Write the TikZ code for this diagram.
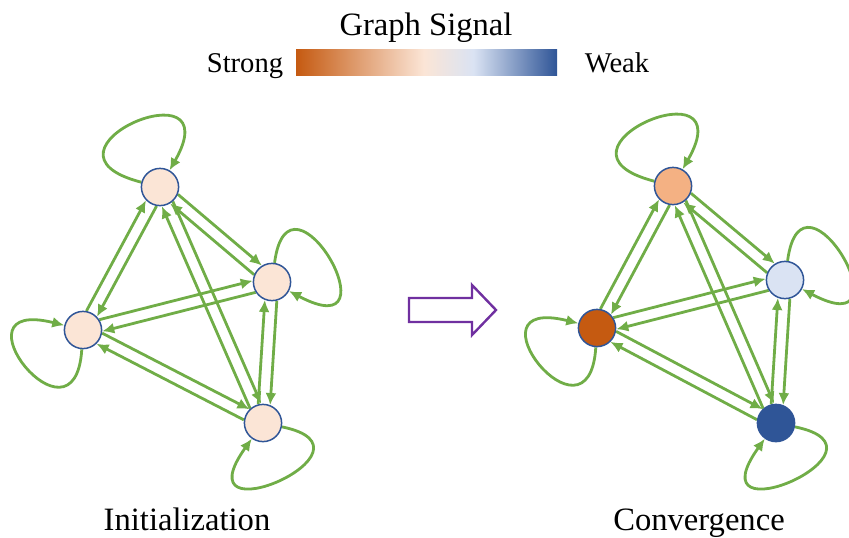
\documentclass[tikz,border=0pt]{standalone}
\usepackage{fontspec}
\setmainfont{Liberation Serif}
\usetikzlibrary{arrows.meta, calc, backgrounds}

\definecolor{linkgreen}{HTML}{70AD47}
\definecolor{rimblue}{HTML}{2F5597}
\definecolor{strongc}{HTML}{C55A11}
\definecolor{strongmid}{HTML}{F4B183}
\definecolor{initc}{HTML}{FBE5D6}
\definecolor{paleblue}{HTML}{DAE3F3}
\definecolor{weakc}{HTML}{2F5597}
\definecolor{hollowpurple}{HTML}{7030A0}

\pgfdeclarehorizontalshading{signalbar}{100bp}{color(0bp)=(strongc);
  color(25bp)=(strongc); color(49.5bp)=(initc); color(59bp)=(paleblue);
  color(75bp)=(weakc); color(100bp)=(weakc)}

\begin{document}
\begin{tikzpicture}[x=0.5pt, y=-0.5pt,
    sig/.style={circle, draw=rimblue, line width=0.75pt, minimum size=18.6pt,
      inner sep=0pt},
    link/.style={draw=linkgreen, line width=1.4pt,
      -{Latex[length=6pt, width=5.5pt]}},
    pair/.style={link, shorten <=9.2pt, shorten >=9.2pt},
    caption/.style={font=\fontsize{16.3}{18}\selectfont, anchor=base},
    scalelabel/.style={font=\fontsize{14.3}{16}\selectfont, anchor=base}]
  \useasboundingbox (0,0) rectangle (849,537);
  \clip (0,0) rectangle (849,537);

  % colour scale
  \node[caption] (title) at (426,35) {Graph Signal};
  \path[shading=signalbar] (296,49) rectangle (557,75);
  \node[scalelabel] (strong) at (245,72) {Strong};
  \node[scalelabel] (weak) at (617,72) {Weak};

  % initial signal
  \node[sig, fill=initc] (t1) at (160,187) {};
  \node[sig, fill=initc] (r1) at (272,282) {};
  \node[sig, fill=initc] (l1) at (83,330) {};
  \node[sig, fill=initc] (b1) at (263,423) {};

  % converged signal
  \node[sig, fill=strongmid] (t2) at (673,186) {};
  \node[sig, fill=paleblue] (r2) at (785,280) {};
  \node[sig, fill=strongc] (l2) at (597,328) {};
  \node[sig, fill=weakc] (b2) at (776,423) {};

  \begin{scope}[on background layer]
    \foreach \g in {1,2} {
      \foreach \a/\b in {t/l, t/r, b/t, l/r, b/l, r/b} {
        \draw[pair] ($(\a\g)!3pt!90:(\b\g)$) -- ($(\b\g)!3pt!-90:(\a\g)$);
        \draw[pair] ($(\b\g)!3pt!90:(\a\g)$) -- ($(\a\g)!3pt!-90:(\b\g)$);
      }
      % self loops
      \draw[link] (t\g) .. controls +(-140,-36) and +(72,-126) .. (t\g);
      \draw[link] (r\g) .. controls +(17,-128) and +(128,68) .. (r\g);
      \draw[link] (l\g) .. controls +(-8,128) and +(-136,-34) .. (l\g);
      \draw[link] (b\g) .. controls +(128,26) and +(-85,119) .. (b\g);
    }
  \end{scope}

  % hollow arrow
  \draw[hollowpurple, line width=1.2pt, line join=miter]
    (409,298) -- (472,298) -- (472,285) -- (496,310) -- (472,335)
    -- (472,322) -- (409,322) -- cycle;

  \node[caption] (init) at (187,530) {Initialization};
  \node[caption] (conv) at (699,530) {Convergence};
\end{tikzpicture}
\end{document}
